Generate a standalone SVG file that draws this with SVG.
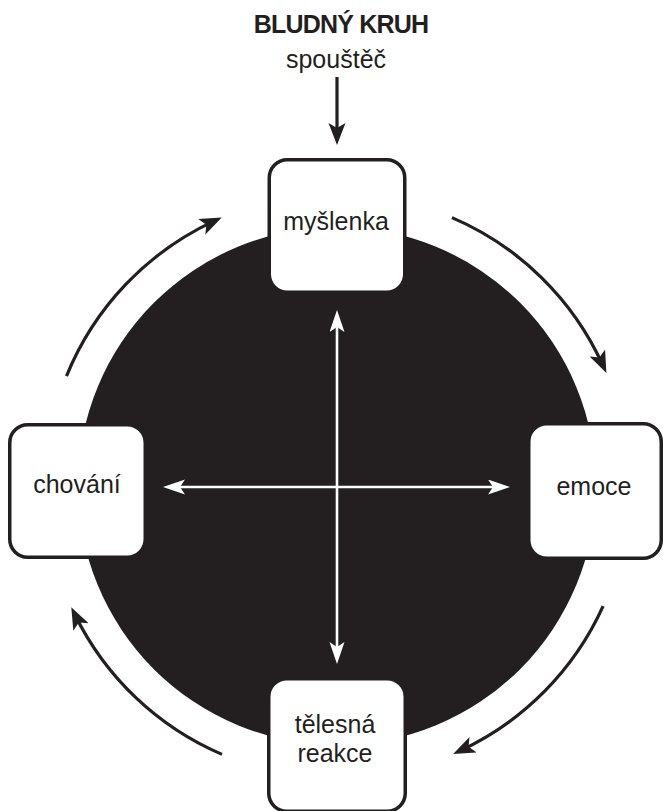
<svg xmlns="http://www.w3.org/2000/svg" width="663" height="811" viewBox="0 0 663 811">
  <style>
    .box { fill: #ffffff; stroke: #231f20; stroke-width: 3.5; }
    .lbl { font-family: "Liberation Sans", Arial, sans-serif; font-size: 25px; fill: #231f20; text-anchor: middle; }
    .title { font-family: "Liberation Sans", Arial, sans-serif; font-size: 25px; font-weight: bold; fill: #231f20; text-anchor: middle; letter-spacing: -0.8px; }
    .arc { fill: none; stroke: #231f20; stroke-width: 3.2; marker-end: url(#ahBlack); }
    .cross { fill: none; stroke: #ffffff; stroke-width: 2.6; marker-start: url(#ahWhite); marker-end: url(#ahWhite); }
  </style>
  <defs>
    <marker id="ahBlack" markerUnits="userSpaceOnUse" markerWidth="24" markerHeight="18" refX="14" refY="8.5" orient="auto">
      <path d="M22,8.5 L0,0 L5,8.5 L0,17 Z" fill="#231f20"/>
    </marker>
    <marker id="ahWhite" markerUnits="userSpaceOnUse" markerWidth="24" markerHeight="16" refX="14" refY="7.5" orient="auto-start-reverse">
      <path d="M22,7.5 L0,0 L5,7.5 L0,15 Z" fill="#ffffff"/>
    </marker>
  </defs>

  <text class="title" x="341" y="33">BLUDNÝ KRUH</text>
  <text class="lbl" x="336" y="68">spouštěč</text>

  <circle id="core" cx="337" cy="486" r="259" fill="#231f20"/>

  <g id="connectors">
    <line x1="337" y1="77" x2="337" y2="137" stroke="#231f20" stroke-width="3.2" marker-end="url(#ahBlack)"/>
    <path class="arc" d="M452.0,217.6 A292,292 0 0 1 603.1,365.8"/>
    <path class="arc" d="M603.1,606.2 A292,292 0 0 1 460.4,750.6"/>
    <path class="arc" d="M222.0,754.4 A292,292 0 0 1 74.8,614.5"/>
    <path class="arc" d="M66.5,376.1 A292,292 0 0 1 214.5,220.9"/>
    <line class="cross" x1="337" y1="318" x2="337" y2="656"/>
    <line class="cross" x1="171" y1="487" x2="502" y2="487"/>
  </g>

  <g id="node-myslenka">
    <rect class="box" x="269.25" y="159.75" width="135.5" height="132.5" rx="18"/>
    <text class="lbl" x="336" y="230">myšlenka</text>
  </g>
  <g id="node-chovani">
    <rect class="box" x="9.75" y="424.75" width="135.5" height="132.5" rx="18"/>
    <text class="lbl" x="77" y="493">chování</text>
  </g>
  <g id="node-emoce">
    <rect class="box" x="528.75" y="423.75" width="132.5" height="134.5" rx="18"/>
    <text class="lbl" x="594" y="495">emoce</text>
  </g>
  <g id="node-telesna-reakce">
    <rect class="box" x="268.75" y="678.75" width="136.5" height="132.5" rx="18"/>
    <text class="lbl" x="335" y="733">tělesná</text>
    <text class="lbl" x="335" y="762">reakce</text>
  </g>
</svg>
